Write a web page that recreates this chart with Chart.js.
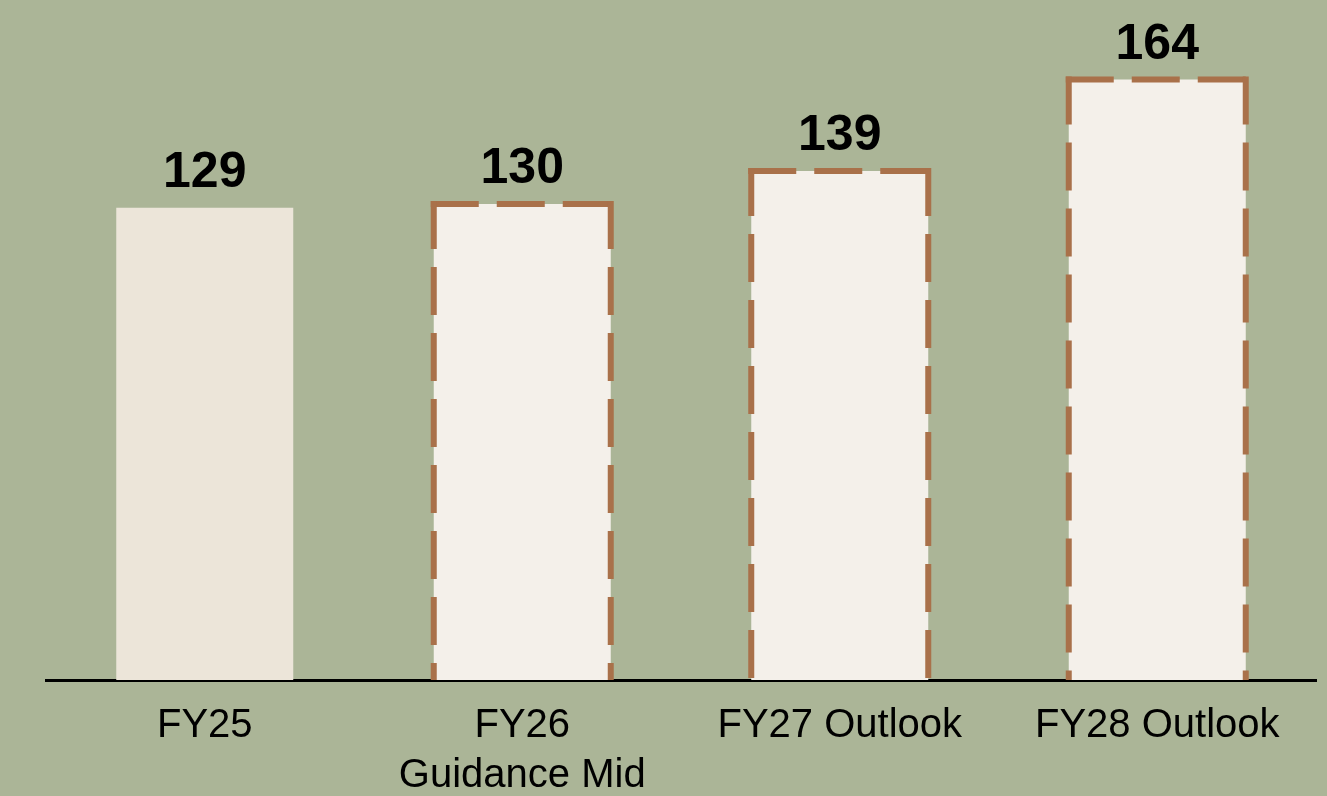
<!DOCTYPE html>
<html>
<head>
<meta charset="utf-8">
<script src="https://cdn.jsdelivr.net/npm/chart.js@4/dist/chart.umd.min.js"></script>
<style>
    html, body {
        margin: 0;
        padding: 0;
        background: #abb597;
        overflow: hidden;
    }
    #wrap {
        width: 1327px;
        height: 822px;
        position: relative;
    }
</style>
</head>
<body>
<div id="wrap"><canvas id="fyChart"></canvas></div>
<script>
const categories = ['FY25', ['FY26', 'Guidance Mid'], 'FY27 Outlook', 'FY28 Outlook'];
const values = [129, 130, 139, 164];
const isForecast = [false, true, true, true];

const actualColor = '#ece5d9';
const forecastColor = '#f4f0ea';
const dashColor = '#a9714a';

// dashed outline + value labels on top of bars
const barDecor = {
    id: 'barDecor',
    afterDatasetsDraw(chart) {
        const ctx = chart.ctx;
        const meta = chart.getDatasetMeta(0);
        meta.data.forEach((bar, i) => {
            const left = bar.x - bar.width / 2;
            const right = bar.x + bar.width / 2;

            if (isForecast[i]) {
                ctx.save();
                ctx.strokeStyle = dashColor;
                ctx.lineWidth = 6;
                ctx.setLineDash([48, 18]);
                ctx.lineCap = 'butt';

                ctx.beginPath();
                ctx.moveTo(left - 3, bar.y);
                ctx.lineTo(right + 3, bar.y);
                ctx.stroke();

                ctx.beginPath();
                ctx.moveTo(left, bar.y - 3);
                ctx.lineTo(left, bar.base);
                ctx.stroke();

                ctx.beginPath();
                ctx.moveTo(right, bar.y - 3);
                ctx.lineTo(right, bar.base);
                ctx.stroke();
                ctx.restore();
            }

            ctx.save();
            ctx.fillStyle = '#000000';
            ctx.font = 'bold 50px "Liberation Sans", Arial, sans-serif';
            ctx.textAlign = 'center';
            ctx.textBaseline = 'alphabetic';
            ctx.fillText(String(values[i]), bar.x, bar.y - 21);
            ctx.restore();
        });
    }
};

const ctx = document.getElementById('fyChart').getContext('2d');
const fyChart = new Chart(ctx, {
    type: 'bar',
    data: {
        labels: categories,
        datasets: [{
            data: values,
            backgroundColor: isForecast.map(f => f ? forecastColor : actualColor),
            borderWidth: 0,
            barPercentage: 0.5575,
            categoryPercentage: 1
        }]
    },
    options: {
        responsive: true,
        maintainAspectRatio: false,
        animation: false,
        events: [],
        layout: {
            padding: { top: 21, left: 46, right: 11, bottom: 0 }
        },
        plugins: {
            legend: { display: false },
            tooltip: { enabled: false }
        },
        scales: {
            x: {
                z: 1,
                grid: { display: false, drawTicks: false },
                border: { display: true, color: '#000000', width: 3 },
                ticks: {
                    color: '#000000',
                    padding: 21,
                    autoSkip: false,
                    maxRotation: 0,
                    font: {
                        family: '"Liberation Sans", Arial, sans-serif',
                        size: 40,
                        lineHeight: 1.25
                    }
                }
            },
            y: {
                display: false,
                min: 0,
                max: 180
            }
        }
    },
    plugins: [barDecor]
});
</script>
</body>
</html>
